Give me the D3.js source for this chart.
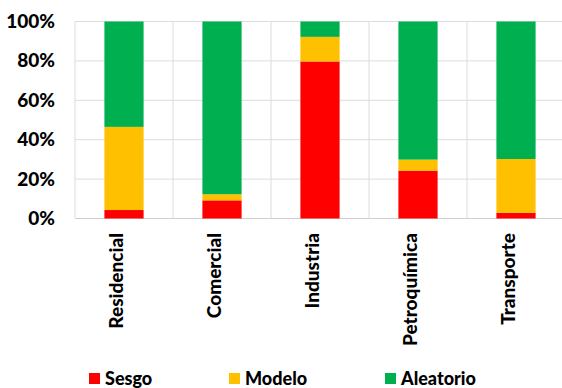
<!DOCTYPE html>
<html>
<head>
<meta charset="utf-8">
<script src="https://cdn.jsdelivr.net/npm/d3@7"></script>
<style>
  body { margin: 0; background: #fff; }
  svg { display: block; font-family: Lato, "Liberation Sans", sans-serif; font-weight: 900; }
</style>
</head>
<body>
<svg id="chart" width="562" height="388"></svg>
<script>
// data (share of each category, %)
var categories = ["Residencial", "Comercial", "Industria", "Petroquímica", "Transporte"];
var sesgo     = [4.3, 9.2, 79.7, 24.3, 2.9];
var modelo    = [42.2, 3.1, 12.5, 5.6, 27.3];
var aleatorio = [53.5, 87.7, 7.8, 70.1, 69.8];
var seriesNames = ["Sesgo", "Modelo", "Aleatorio"];
var seriesColors = ["#ff0000", "#ffc000", "#00b050"];
var yTicks = [0, 0.2, 0.4, 0.6, 0.8, 1];

var rows = categories.map(function(c, i) {
  return { cat: c, Sesgo: sesgo[i] / 100, Modelo: modelo[i] / 100, Aleatorio: aleatorio[i] / 100 };
});

var svg = d3.select("#chart");
var plotL = 75, plotR = 565, plotT = 21.5, plotB = 218.5;

var x = d3.scaleBand()
    .domain(categories)
    .range([plotL, plotR])
    .paddingInner(0.6)
    .paddingOuter(0.3);

var y = d3.scaleLinear()
    .domain([0, 1])
    .range([plotB, plotT]);

var color = d3.scaleOrdinal().domain(seriesNames).range(seriesColors);

// gridlines
var grid = svg.append("g").attr("class", "grid");
grid.selectAll(".hgrid")
    .data(yTicks)
    .enter().append("line")
    .attr("x1", plotL).attr("x2", plotR)
    .attr("y1", function(d) { return y(d); })
    .attr("y2", function(d) { return y(d); })
    .attr("stroke", function(d) { return d === 0 ? "#d0d0d0" : "#dcdcdc"; })
    .attr("stroke-width", 1);

var bounds = d3.range(categories.length + 1).map(function(i) { return plotL + i * x.step(); });
grid.selectAll(".vgrid")
    .data(bounds)
    .enter().append("line")
    .attr("x1", function(d) { return d; })
    .attr("x2", function(d) { return d; })
    .attr("y1", plotT).attr("y2", plotB)
    .attr("stroke", "#dcdcdc")
    .attr("stroke-width", 1);

// stacked bars
var stack = d3.stack().keys(seriesNames);
var layers = svg.append("g").selectAll("g")
    .data(stack(rows))
    .enter().append("g")
    .attr("fill", function(d) { return color(d.key); });

layers.selectAll("rect")
    .data(function(d) { return d; })
    .enter().append("rect")
    .attr("x", function(d) { return x(d.data.cat); })
    .attr("width", x.bandwidth())
    .attr("y", function(d) { return y(d[1]); })
    .attr("height", function(d) { return y(d[0]) - y(d[1]); });

// y axis
var yAxis = svg.append("g")
    .attr("transform", "translate(" + plotL + ",0)")
    .call(d3.axisLeft(y).tickValues(yTicks).tickFormat(d3.format(".0%")).tickSize(0).tickPadding(20));
yAxis.select(".domain").remove();
yAxis.selectAll("text")
    .attr("font-family", "Lato, sans-serif")
    .attr("font-weight", 900)
    .attr("font-size", 19)
    .attr("fill", "#000");

// category labels, rotated
svg.append("g").selectAll("text")
    .data(categories)
    .enter().append("text")
    .attr("transform", function(d) {
      return "translate(" + (x(d) + x.bandwidth() / 2 - 1) + ",233) rotate(-90)";
    })
    .attr("text-anchor", "end")
    .attr("font-size", 19)
    .attr("fill", "#000")
    .text(function(d) { return d; });

// legend
var legendX = [89, 229, 385];
var legend = svg.append("g").selectAll("g")
    .data(seriesNames)
    .enter().append("g")
    .attr("transform", function(d, i) { return "translate(" + legendX[i] + ",373)"; });
legend.append("rect")
    .attr("width", 11).attr("height", 11)
    .attr("fill", function(d) { return color(d); });
legend.append("text")
    .attr("x", 16).attr("y", 12)
    .attr("font-size", 18)
    .attr("fill", "#000")
    .text(function(d) { return d; });
</script>
</body>
</html>
